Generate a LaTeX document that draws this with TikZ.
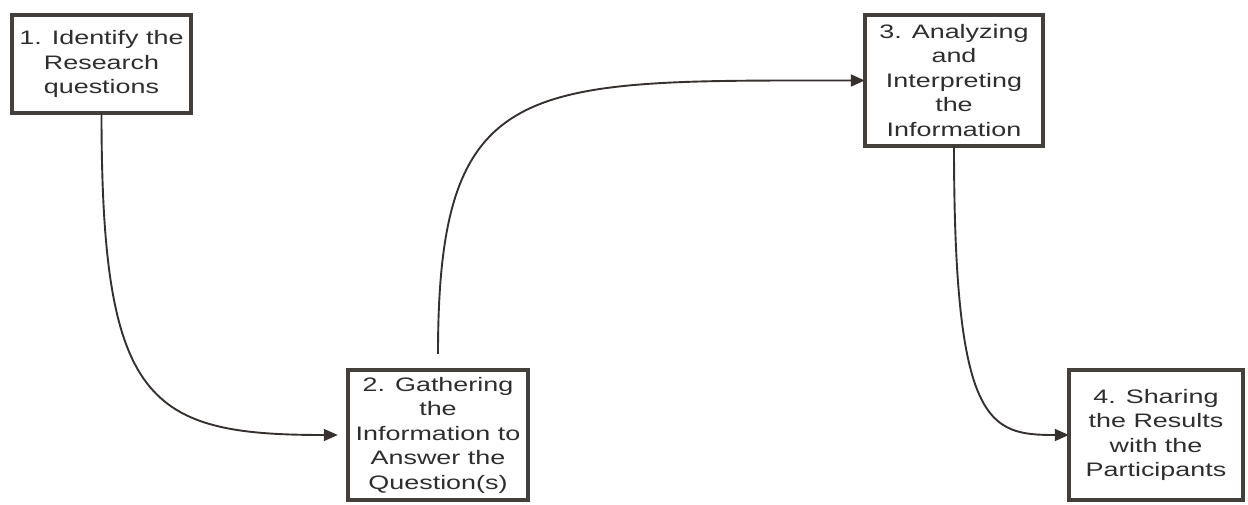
\documentclass[tikz,border=0pt]{standalone}
\usepackage{fontspec}
\setmainfont{Liberation Sans}[FakeStretch=1.38]
\usetikzlibrary{arrows.meta}
\definecolor{boxline}{HTML}{453F3B}
\definecolor{conline}{HTML}{36312E}
\definecolor{txt}{HTML}{2E2E2E}
\begin{document}
\begin{tikzpicture}[x=1pt,y=-1pt,
  stepbox/.style={draw=boxline,line width=3.8pt,fill=white,inner sep=0pt,outer sep=0pt,
    align=center,text=txt,font=\fontsize{19.5}{24.5}\selectfont},
  conn/.style={draw=conline,line width=1.9pt,-{Triangle[length=14pt,width=12pt]}}]
\useasboundingbox (0,0) rectangle (1248,504);
\node[stepbox,minimum width=179.5pt,minimum height=98.5pt] (b1) at (101.5,64) {1. Identify the\\Research\\questions};
\node[stepbox,minimum width=180.5pt,minimum height=130.5pt] (b2) at (438,435) {2. Gathering\\the\\Information to\\Answer the\\Question(s)};
\node[stepbox,minimum width=178.5pt,minimum height=131.5pt] (b3) at (954,80.5) {3. Analyzing\\and\\Interpreting\\the\\Information};
\node[stepbox,minimum width=174.5pt,minimum height=130.5pt] (b4) at (1156,435) {4. Sharing\\the Results\\with the\\Participants};
\coordinate (e1) at ([xshift=-10pt]b2.west);
\coordinate (s2) at ([yshift=16pt]b2.north);
\draw[conn] (b1.south) .. controls +(0,290) and +(-190,0) .. (e1);
\draw[conn] (s2) .. controls +(0,-280) and +(-340,0) .. (b3.west);
\draw[conn] (b3.south) .. controls +(0,280) and +(-80,0) .. (b4.west);
\end{tikzpicture}
\end{document}
